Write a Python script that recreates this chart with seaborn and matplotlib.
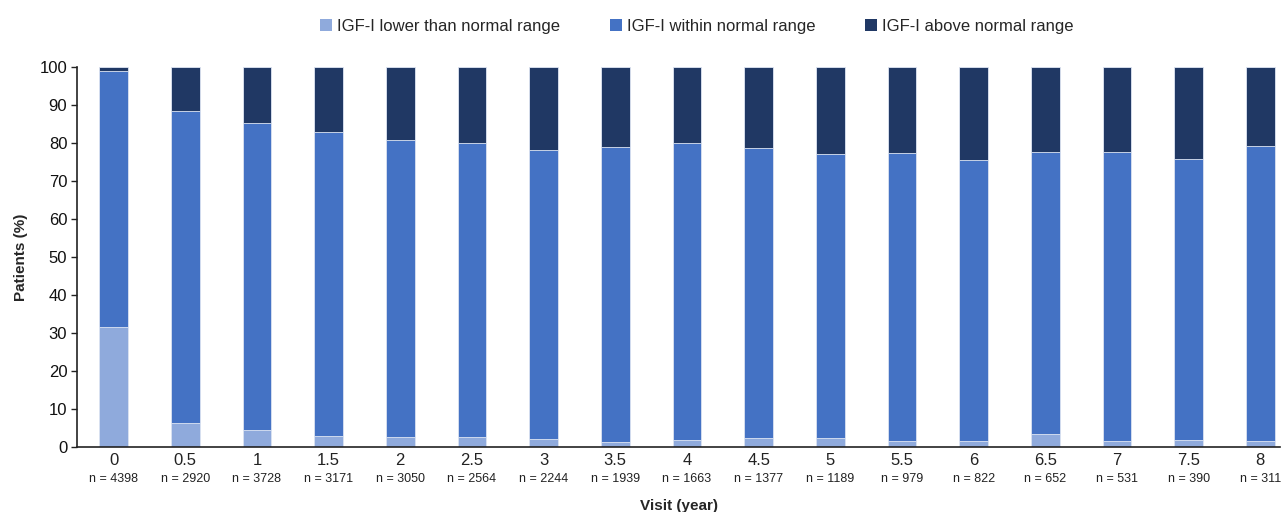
import matplotlib
matplotlib.use("Agg")
import matplotlib.pyplot as plt
import matplotlib.transforms as mtransforms
from matplotlib.patches import Patch
import seaborn as sns
import pandas as pd
import numpy as np

visits = ["0", "0.5", "1", "1.5", "2", "2.5", "3", "3.5", "4", "4.5", "5", "5.5", "6", "6.5", "7", "7.5", "8"]
n_labels = ["n = 4398", "n = 2920", "n = 3728", "n = 3171", "n = 3050", "n = 2564", "n = 2244", "n = 1939",
            "n = 1663", "n = 1377", "n = 1189", "n = 979", "n = 822", "n = 652", "n = 531", "n = 390", "n = 311"]
lower = [31.7, 6.4, 4.5, 3.0, 2.5, 2.5, 2.2, 1.3, 1.8, 2.4, 2.4, 1.6, 1.6, 3.3, 1.6, 1.8, 1.6]
within = [67.3, 82.0, 80.8, 79.9, 78.3, 77.5, 76.0, 77.6, 78.3, 76.2, 74.7, 75.8, 73.9, 74.3, 76.0, 74.0, 77.7]
above = [round(100 - l - w, 1) for l, w in zip(lower, within)]

series_names = ["IGF-I lower than normal range", "IGF-I within normal range", "IGF-I above normal range"]
colors = ["#8faadc", "#4472c4", "#203864"]

sns.set_style("white")
plt.rcParams['font.family'] = ['Liberation Sans', 'DejaVu Sans']

df = pd.DataFrame({"visit": visits, "lower": lower, "within": within, "above": above})
df["c_lower"] = df["lower"]
df["c_within"] = df["lower"] + df["within"]
df["c_above"] = df["lower"] + df["within"] + df["above"]

fig = plt.figure(figsize=(12.83, 5.12), dpi=100)
ax = fig.add_axes([0.060, 0.127, 0.938, 0.742])

for col, color in [("c_above", colors[2]), ("c_within", colors[1]), ("c_lower", colors[0])]:
    sns.barplot(data=df, x="visit", y=col, color=color, width=0.4, ax=ax,
                edgecolor="#dfe6f3", linewidth=0.6, saturation=1, order=visits)

ax.set_ylim(0, 100)
ax.set_xlim(-0.51, len(visits) - 0.72)
ax.set_yticks(range(0, 101, 10))
ax.tick_params(axis="y", labelsize=12, length=4, width=1, direction="out", left=True, pad=3, colors="#222222")
ax.tick_params(axis="x", labelsize=12, length=0, pad=4, colors="#222222")
for lab in ax.get_yticklabels():
    lab.set_color("#111111")
for sp in ["top", "right"]:
    ax.spines[sp].set_visible(False)
for sp in ["left", "bottom"]:
    ax.spines[sp].set_color("#222222")
    ax.spines[sp].set_linewidth(1.2)

ax.set_xlabel("Visit (year)", fontsize=11, fontweight="bold", labelpad=23)
ax.set_ylabel("Patients (%)", fontsize=11, fontweight="bold", labelpad=8)

trans = mtransforms.blended_transform_factory(ax.transData, ax.transAxes)
for i, t in enumerate(n_labels):
    ax.text(i, -0.068, t, transform=trans, ha="center", va="top", fontsize=9, color="#222222")

handles = [Patch(facecolor=c, edgecolor="none") for c in colors]
fig.legend(handles, series_names, loc="upper center", bbox_to_anchor=(0.543, 0.993), ncol=3,
           frameon=False, fontsize=12, handlelength=0.7, handleheight=0.7, handletextpad=0.3,
           columnspacing=3.0)

fig.savefig("out.png", dpi=100)
